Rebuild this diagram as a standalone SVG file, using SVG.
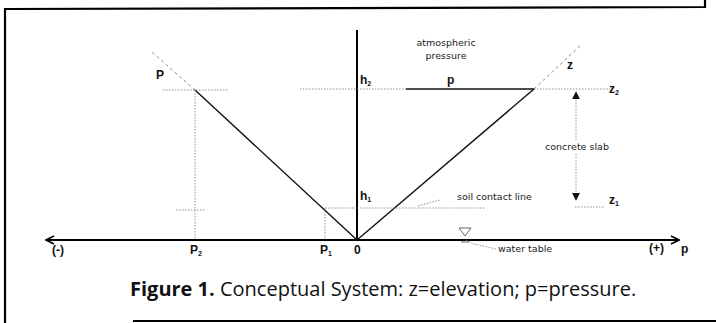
<svg xmlns="http://www.w3.org/2000/svg" width="716" height="323" viewBox="0 0 716 323">
<style>
.frame{stroke:#000;stroke-width:2.2;fill:none}
.axis{stroke:#000;stroke-width:2;fill:none}
.line{stroke:#111;stroke-width:1.4;fill:none}
.ext{stroke:#777;stroke-width:0.9;stroke-dasharray:3 3;fill:none}
.dot{stroke:#888;stroke-width:0.9;stroke-dasharray:1.5 1.5;fill:none}
.lbl{font-family:"DejaVu Sans",sans-serif;font-size:9.5px;fill:#222}
.b{font-family:"Liberation Sans",sans-serif;font-size:12px;font-weight:bold;fill:#111}
.cap{font-family:"Open Sans","Noto Sans",sans-serif;font-size:20px;fill:#111}
</style>
<defs>
<marker id="open" viewBox="0 0 10 10" refX="9" refY="5" markerWidth="10" markerHeight="10" markerUnits="userSpaceOnUse" orient="auto">
<path d="M1,1 L9,5 L1,9" fill="none" stroke="#000" stroke-width="1.6"/>
</marker>
<marker id="tri" viewBox="0 0 10 10" refX="9" refY="5" markerWidth="8" markerHeight="8" markerUnits="userSpaceOnUse" orient="auto">
<path d="M0,0 L10,5 L0,10 Z" fill="#111"/>
</marker>
</defs>
<g id="frame">
<path class="frame" d="M5,323 L5,9 L705,7 L705,0"/>
<path class="frame" d="M133,321 L716,321"/>
</g>
<g id="connectors">
<line class="axis" x1="357" y1="30" x2="357" y2="241"/>
<line class="axis" x1="357" y1="240" x2="46" y2="240" marker-end="url(#open)"/>
<line class="axis" x1="357" y1="240" x2="679" y2="240" marker-end="url(#open)"/>
<line class="line" x1="357" y1="240" x2="195" y2="90"/>
<line class="ext" x1="195" y1="90" x2="152" y2="52"/>
<line class="line" x1="357" y1="240" x2="534" y2="89"/>
<line class="ext" x1="534" y1="89" x2="582" y2="44"/>
<line class="dot" x1="357" y1="89" x2="406" y2="89"/>
<line class="line" x1="406" y1="89" x2="534" y2="89"/>
<line class="dot" x1="534" y1="89" x2="610" y2="89"/>
<line class="dot" x1="163" y1="90" x2="228" y2="90"/>
<line class="dot" x1="300" y1="89" x2="357" y2="89"/>
<line class="dot" x1="195" y1="90" x2="195" y2="240"/>
<line class="dot" x1="176" y1="210" x2="205" y2="210"/>
<line class="dot" x1="325" y1="208" x2="325" y2="240"/>
<line class="dot" x1="325" y1="208" x2="357" y2="208"/>
<line class="dot" x1="357" y1="208" x2="486" y2="208"/>
<line class="dot" x1="575" y1="207" x2="605" y2="207"/>
<line class="dot" x1="576" y1="140" x2="576" y2="92" marker-end="url(#tri)"/>
<line class="dot" x1="576" y1="154" x2="576" y2="200" marker-end="url(#tri)"/>
<path class="dot" d="M418,206 L440,200"/>
<path class="dot" d="M466,240 L474,244 L496,249"/>
</g>
<g id="water-table">
<path d="M459,228 L471,228 L465,236 Z" fill="none" stroke="#555" stroke-width="0.9"/>
<line x1="461" y1="242" x2="469" y2="242" stroke="#555" stroke-width="0.9"/>
<text class="lbl" x="498" y="252">water table</text>
</g>
<g id="labels">
<text class="b" x="156" y="79">P</text>
<text class="b" x="447" y="84">p</text>
<text class="b" x="567" y="69">z</text>
<text class="b" x="360" y="84">h<tspan font-size="7" dy="2">2</tspan></text>
<text class="b" x="609" y="93">z<tspan font-size="7" dy="2">2</tspan></text>
<text class="b" x="360" y="200">h<tspan font-size="7" dy="2">1</tspan></text>
<text class="b" x="609" y="204">z<tspan font-size="7" dy="2">1</tspan></text>
<text class="lbl" x="446" y="46" text-anchor="middle">atmospheric</text>
<text class="lbl" x="446" y="59" text-anchor="middle">pressure</text>
<text class="lbl" x="577" y="150" text-anchor="middle">concrete slab</text>
<text class="lbl" x="457" y="200">soil contact line</text>
<text class="b" x="52" y="254">(-)</text>
<text class="b" x="190" y="254">P<tspan font-size="7" dy="2">2</tspan></text>
<text class="b" x="320" y="254">P<tspan font-size="7" dy="2">1</tspan></text>
<text class="b" x="354" y="254">0</text>
<text class="b" x="649" y="252">(+)</text>
<text class="b" x="681" y="253" font-size="17">p</text>
</g>
<g id="caption">
<text class="cap" x="130" y="296"><tspan font-weight="bold">Figure 1.</tspan> Conceptual System: z=elevation; p=pressure.</text>
</g>
</svg>
